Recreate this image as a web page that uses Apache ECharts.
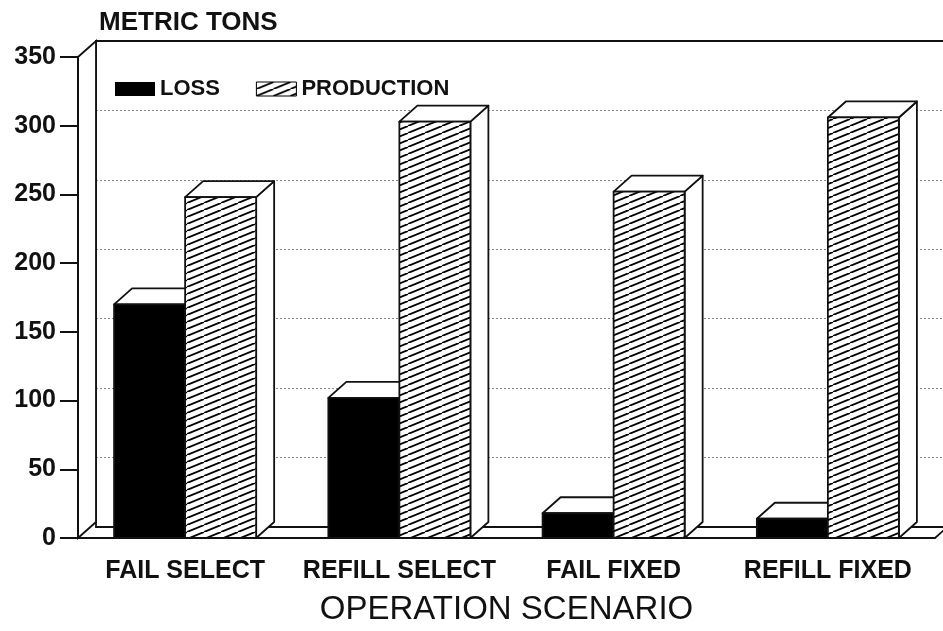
<!DOCTYPE html>
<html><head><meta charset="utf-8">
<script src="https://cdn.jsdelivr.net/npm/echarts@6/dist/echarts.min.js"></script>
<style>html,body{margin:0;padding:0;background:#fff}#c{width:943px;height:631px}</style>
</head><body><div id="c"></div>
<script>
// ---- data ----
const categories = ['FAIL SELECT', 'REFILL SELECT', 'FAIL FIXED', 'REFILL FIXED'];
const lossValues = [170, 102, 18, 14];
const productionValues = [248, 303, 252, 306];
const yTickLabels = ['0', '50', '100', '150', '200', '250', '300', '350'];
const seriesNames = ['LOSS', 'PRODUCTION'];
const yAxisTitle = 'METRIC TONS';
const xAxisTitle = 'OPERATION SCENARIO';

// ---- styling ----
const DX = 18, DY = -16;           // 3-D depth offset (px)
const FONT = '"Liberation Sans", Arial, Helvetica, sans-serif';
const INK = '#111';
const BAR_FRAC = 0.3315;           // bar width as fraction of category band

function makeHatch() {
  const w = 17, h = 7;
  const c = document.createElement('canvas');
  c.width = w; c.height = h;
  const g = c.getContext('2d');
  g.fillStyle = '#fff'; g.fillRect(0, 0, w, h);
  g.strokeStyle = '#000'; g.lineWidth = 1.8;
  g.beginPath();
  g.moveTo(0, h); g.lineTo(w, 0);
  g.moveTo(-w, h); g.lineTo(0, 0);
  g.moveTo(w, h); g.lineTo(2 * w, 0);
  g.stroke();
  return c;
}
const hatch = { image: makeHatch(), repeat: 'repeat' };

function barRender(side, fill) {
  return function (params, api) {
    const cat = api.value(0), val = api.value(1);
    const band = api.size([1, 0])[0];
    const bw = band * BAR_FRAC;
    const top = api.coord([cat, val]);
    const base = api.coord([cat, 0]);
    const x0 = side < 0 ? top[0] - bw : top[0];
    const x1 = x0 + bw;
    const yT = top[1], yB = base[1];
    const st = { stroke: INK, lineWidth: 1.8, lineJoin: 'round' };
    return {
      type: 'group',
      children: [
        { type: 'polygon', shape: { points: [[x1, yB], [x1 + DX, yB + DY], [x1 + DX, yT + DY], [x1, yT]] },
          style: Object.assign({ fill: '#fff' }, st) },
        { type: 'polygon', shape: { points: [[x0, yT], [x0 + DX, yT + DY], [x1 + DX, yT + DY], [x1, yT]] },
          style: Object.assign({ fill: '#fff' }, st) },
        { type: 'rect', shape: { x: x0, y: yT, width: bw, height: yB - yT },
          style: Object.assign({ fill: fill }, st) }
      ]
    };
  };
}

function frameRender(params, api) {
  const band = api.size([1, 0])[0];
  const p0 = api.coord([0, 0]);
  const pTop = api.coord([0, 350]);
  const xl = p0[0] - band / 2;
  const xr = api.coord([categories.length - 1, 0])[0] + band / 2;
  const st = { stroke: INK, lineWidth: 1.8 };
  return {
    type: 'group',
    children: [
      { type: 'polygon', shape: { points: [[xl, p0[1]], [xl + DX, p0[1] + DY], [xl + DX, pTop[1] + DY], [xl, pTop[1]]] },
        style: { fill: '#fff', stroke: INK, lineWidth: 1.8 } },
      { type: 'line', shape: { x1: xr, y1: p0[1], x2: xr + DX, y2: p0[1] + DY }, style: st }
    ]
  };
}

const chart = echarts.init(document.getElementById('c'), null, { renderer: 'canvas' });
chart.setOption({
  backgroundColor: '#fff',
  animation: false,
  title: {
    text: yAxisTitle, left: 94, top: 5,
    textStyle: { fontFamily: FONT, fontWeight: 'bold', fontSize: 26, color: INK }
  },
  legend: {
    left: 115, top: 78, padding: 0, itemGap: 36, itemWidth: 40, itemHeight: 14,
    selectedMode: false,
    textStyle: { fontFamily: FONT, fontWeight: 'bold', fontSize: 22, color: INK },
    data: [
      { name: seriesNames[0], icon: 'rect', itemStyle: { color: '#000' } },
      { name: seriesNames[1], icon: 'rect', itemStyle: { color: hatch, borderColor: '#000', borderWidth: 1 } }
    ]
  },
  grid: [
    { left: 78, right: 8, top: 57, bottom: 88 },
    { left: 78 + DX, right: 0, top: 57 + DY, bottom: 88 - DY }
  ],
  xAxis: [
    {
      gridIndex: 0, type: 'category', data: categories,
      axisLine: { lineStyle: { color: INK, width: 2 } },
      axisTick: { alignWithLabel: true, length: 10, lineStyle: { color: INK, width: 1.6 } },
      axisLabel: { interval: 0, fontFamily: FONT, fontWeight: 'bold', fontSize: 25, color: INK, margin: 21 },
      name: xAxisTitle, nameLocation: 'middle', nameGap: 55,
      nameTextStyle: { fontFamily: FONT, fontSize: 33, color: INK },
      z: 5
    },
    {
      gridIndex: 1, type: 'value', position: 'bottom', min: 0, max: 1,
      axisLine: { show: true, lineStyle: { color: INK, width: 1.8 } },
      axisTick: { show: false }, axisLabel: { show: false }, splitLine: { show: false }
    },
    {
      gridIndex: 1, type: 'value', position: 'top', min: 0, max: 1,
      axisLine: { show: true, lineStyle: { color: INK, width: 1.8 } },
      axisTick: { show: false }, axisLabel: { show: false }, splitLine: { show: false }
    }
  ],
  yAxis: [
    {
      gridIndex: 0, type: 'value', min: 0, max: 350, interval: 50,
      axisLine: { show: true, lineStyle: { color: INK, width: 2 } },
      axisTick: { show: true, length: 18, lineStyle: { color: INK, width: 2 } },
      axisLabel: {
        fontFamily: FONT, fontWeight: 'bold', fontSize: 25, color: INK, margin: 22,
        formatter: (v) => yTickLabels[Math.round(v / 50)]
      },
      splitLine: { show: false },
      z: 5
    },
    {
      gridIndex: 1, type: 'value', min: 0, max: 350, interval: 50,
      axisLine: { show: true, lineStyle: { color: INK, width: 1.8 } },
      axisTick: { show: false }, axisLabel: { show: false },
      splitLine: { show: true, lineStyle: { color: '#888', width: 1, type: [2, 2] } }
    }
  ],
  series: [
    {
      type: 'custom', name: '__frame', xAxisIndex: 0, yAxisIndex: 0, silent: true, z: 1,
      data: [[0, 0]], encode: { x: 0, y: 1 }, renderItem: frameRender
    },
    {
      type: 'custom', name: seriesNames[0], xAxisIndex: 0, yAxisIndex: 0, z: 2,
      itemStyle: { color: '#000' },
      data: lossValues.map((v, i) => [i, v]), encode: { x: 0, y: 1 },
      renderItem: barRender(-1, '#000')
    },
    {
      type: 'custom', name: seriesNames[1], xAxisIndex: 0, yAxisIndex: 0, z: 3,
      itemStyle: { color: hatch },
      data: productionValues.map((v, i) => [i, v]), encode: { x: 0, y: 1 },
      renderItem: barRender(1, hatch)
    }
  ]
});
</script></body></html>
